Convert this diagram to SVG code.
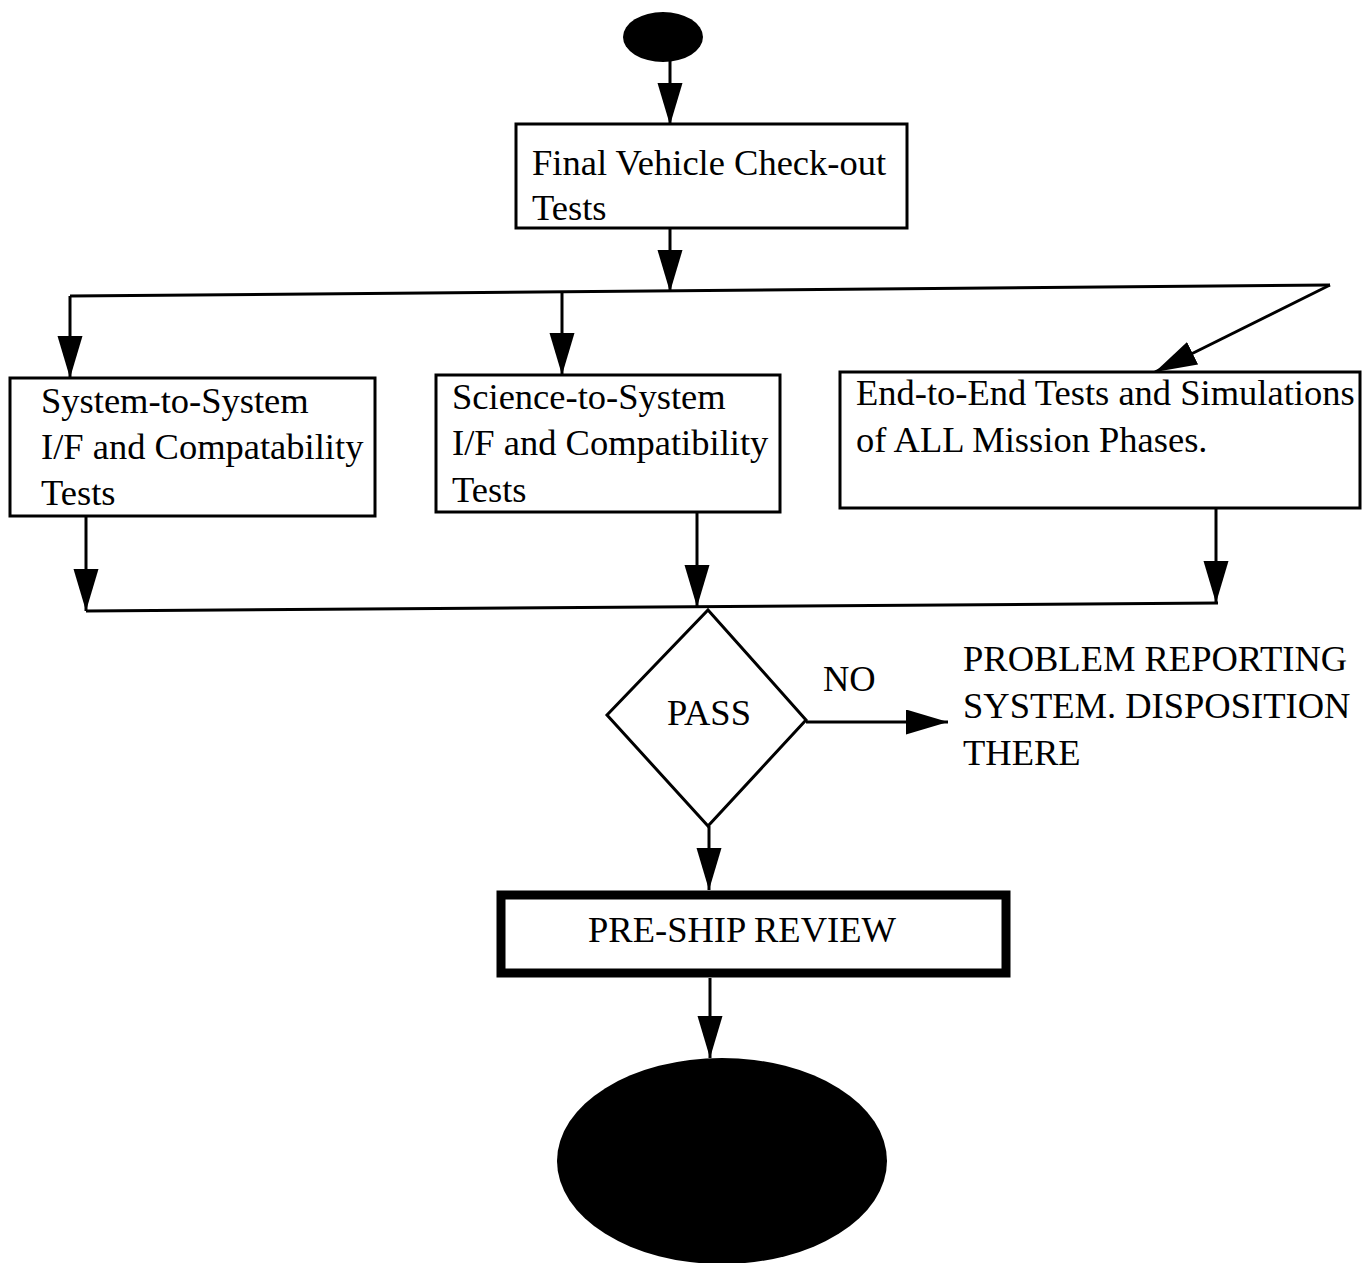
<svg xmlns="http://www.w3.org/2000/svg" width="1366" height="1263" viewBox="0 0 1366 1263">
  <style>
    .box { fill: #fff; stroke: #000; stroke-width: 3; }
    .term { fill: #000; }
    .lbl { font-family: "Liberation Serif", "Times New Roman", serif; font-size: 36.5px; fill: #000; }
    .wire { fill: none; stroke: #000; stroke-width: 3; }
    .flow { fill: none; stroke: #000; stroke-width: 3; marker-end: url(#head); }
  </style>
  <defs>
    <marker id="head" markerUnits="userSpaceOnUse" markerWidth="44" markerHeight="26" refX="42" refY="12.5" orient="auto">
      <path d="M0,0 L42,12.5 L0,25 Z" fill="#000"/>
    </marker>
  </defs>
  <rect width="1366" height="1263" fill="#fff"/>

  <!-- connectors -->
  <g id="connectors">
    <line class="flow" x1="670" y1="60" x2="670" y2="125"/>
    <line class="flow" x1="670" y1="228" x2="670" y2="292"/>
    <!-- fan-out bus -->
    <polyline class="wire" points="70,296 1330,285"/>
    <line class="flow" x1="70" y1="296" x2="70" y2="378"/>
    <line class="flow" x1="562" y1="292" x2="562" y2="375"/>
    <line class="flow" x1="1330" y1="285" x2="1155" y2="372"/>
    <!-- fan-in bus -->
    <line class="flow" x1="86" y1="516" x2="86" y2="611"/>
    <line class="flow" x1="697" y1="512" x2="697" y2="607"/>
    <line class="flow" x1="1216" y1="508" x2="1216" y2="603"/>
    <polyline class="wire" points="86,611 1218,603"/>
    <!-- decision outputs -->
    <line class="flow" x1="806" y1="722" x2="948" y2="722"/>
    <line class="flow" x1="709" y1="826" x2="709" y2="890"/>
    <line class="flow" x1="710" y1="978" x2="710" y2="1058"/>
  </g>

  <g id="start">
    <ellipse class="term" cx="663" cy="37" rx="40" ry="25"/>
  </g>

  <g id="final-checkout">
    <rect class="box" x="516" y="124" width="391" height="104"/>
    <text class="lbl" x="532" y="175">Final Vehicle Check-out</text>
    <text class="lbl" x="532" y="220">Tests</text>
  </g>

  <g id="system-to-system">
    <rect class="box" x="10" y="378" width="365" height="138"/>
    <text class="lbl" x="41" y="413">System-to-System</text>
    <text class="lbl" x="41" y="459">I/F and Compatability</text>
    <text class="lbl" x="41" y="505">Tests</text>
  </g>

  <g id="science-to-system">
    <rect class="box" x="436" y="375" width="344" height="137"/>
    <text class="lbl" x="452" y="409">Science-to-System</text>
    <text class="lbl" x="452" y="455">I/F and Compatibility</text>
    <text class="lbl" x="452" y="502">Tests</text>
  </g>

  <g id="end-to-end">
    <rect class="box" x="840" y="372" width="520" height="136"/>
    <text class="lbl" x="856" y="405">End-to-End Tests and Simulations</text>
    <text class="lbl" x="856" y="452">of ALL Mission Phases.</text>
  </g>

  <g id="pass">
    <polygon class="box" points="708,610 806,720 708,826 607,715"/>
    <text class="lbl" x="709" y="725" text-anchor="middle">PASS</text>
  </g>

  <g id="no-label">
    <text class="lbl" x="823" y="691">NO</text>
  </g>

  <g id="problem-reporting">
    <text class="lbl" x="963" y="671">PROBLEM REPORTING</text>
    <text class="lbl" x="963" y="718">SYSTEM. DISPOSITION</text>
    <text class="lbl" x="963" y="765">THERE</text>
  </g>

  <g id="pre-ship-review">
    <rect x="501" y="895" width="505" height="78" fill="#fff" stroke="#000" stroke-width="9"/>
    <text class="lbl" x="742" y="942" text-anchor="middle">PRE-SHIP REVIEW</text>
  </g>

  <g id="end">
    <ellipse class="term" cx="722" cy="1161" rx="165" ry="103"/>
  </g>
</svg>
